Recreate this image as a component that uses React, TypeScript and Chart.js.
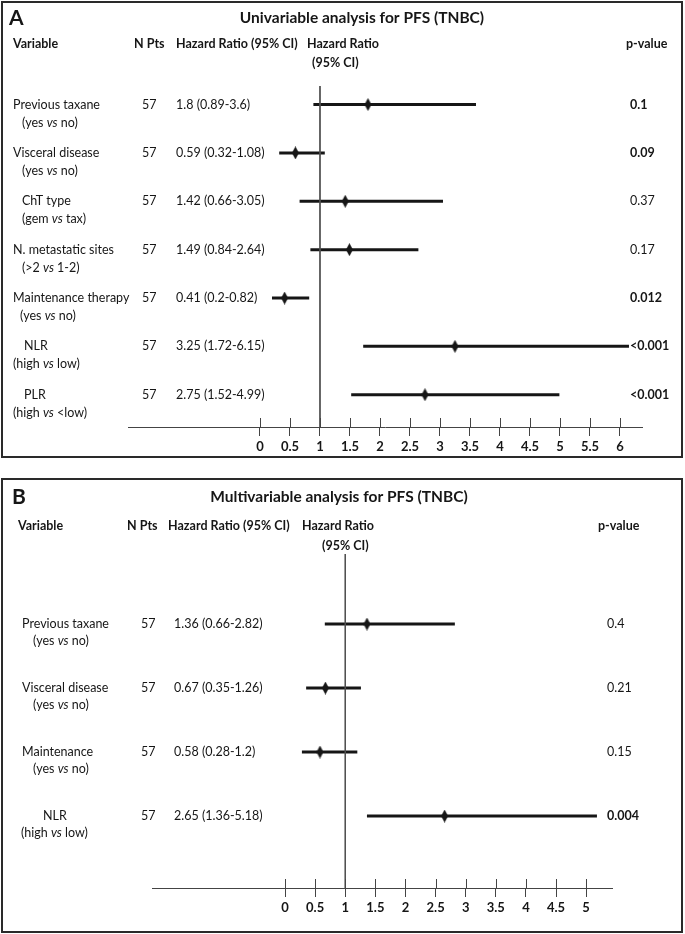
import React, { useEffect, useRef } from 'react';
import { Chart, registerables } from 'chart.js';

Chart.register(...registerables);

const FONT = 'Lato, "Open Sans", sans-serif';
const INK = '#161616';

// ---------- Panel A: univariable ----------
const uniTitle = 'Univariable analysis for PFS (TNBC)';
const uniVariables = ['Previous taxane', 'Visceral disease', 'ChT type', 'N. metastatic sites', 'Maintenance therapy', 'NLR', 'PLR'];
const uniComparisons: [string, string][] = [
  ['(yes', 'no)'], ['(yes', 'no)'], ['(gem', 'tax)'], ['(>2', '1-2)'], ['(yes', 'no)'], ['(high', 'low)'], ['(high', '<low)'],
];
const uniN = [57, 57, 57, 57, 57, 57, 57];
const uniHR = [1.8, 0.59, 1.42, 1.49, 0.41, 3.25, 2.75];
const uniLower = [0.89, 0.32, 0.66, 0.84, 0.2, 1.72, 1.52];
const uniUpper = [3.6, 1.08, 3.05, 2.64, 0.82, 6.15, 4.99];
const uniHRText = ['1.8 (0.89-3.6)', '0.59 (0.32-1.08)', '1.42 (0.66-3.05)', '1.49 (0.84-2.64)', '0.41 (0.2-0.82)', '3.25 (1.72-6.15)', '2.75 (1.52-4.99)'];
const uniP = ['0.1', '0.09', '0.37', '0.17', '0.012', '<0.001', '<0.001'];
const uniPBold = [true, true, false, false, true, true, true];
const uniTicks = [0, 0.5, 1, 1.5, 2, 2.5, 3, 3.5, 4, 4.5, 5, 5.5, 6];

// ---------- Panel B: multivariable ----------
const multiTitle = 'Multivariable analysis for PFS (TNBC)';
const multiVariables = ['Previous taxane', 'Visceral disease', 'Maintenance', 'NLR'];
const multiComparisons: [string, string][] = [['(yes', 'no)'], ['(yes', 'no)'], ['(yes', 'no)'], ['(high', 'low)']];
const multiN = [57, 57, 57, 57];
const multiHR = [1.36, 0.67, 0.58, 2.65];
const multiLower = [0.66, 0.35, 0.28, 1.36];
const multiUpper = [2.82, 1.26, 1.2, 5.18];
const multiHRText = ['1.36 (0.66-2.82)', '0.67 (0.35-1.26)', '0.58 (0.28-1.2)', '2.65 (1.36-5.18)'];
const multiP = ['0.4', '0.21', '0.15', '0.004'];
const multiPBold = [false, false, false, true];
const multiTicks = [0, 0.5, 1, 1.5, 2, 2.5, 3, 3.5, 4, 4.5, 5];

const headers = { variable: 'Variable', n: 'N Pts', hrci: 'Hazard Ratio (95% CI)', hr1: 'Hazard Ratio', hr2: '(95% CI)', p: 'p-value' };

// ---------- layout (page coordinates) ----------
type Layout = {
  boxTop: number; boxHeight: number;
  letterX: number; letterY: number; titleX: number; titleY: number;
  headY: number; head2Y: number;
  hVarX: number; hNX: number; hHrciX: number; hHr1X: number; hHr2X: number; hPX: number;
  labelX: [number, number][]; line2: number;
  nX: number; hrX: number; pX: number;
  chartLeft: number; chartRight: number; chartTop: number; chartBottom: number;
  xMin: number; xMax: number; yMin: number; yMax: number;
};

const layoutA: Layout = {
  boxTop: 1, boxHeight: 457,
  letterX: 9, letterY: 18, titleX: 362, titleY: 18,
  headY: 44, head2Y: 63,
  hVarX: 13, hNX: 134, hHrciX: 176, hHr1X: 307, hHr2X: 312, hPX: 626,
  labelX: [[13, 22], [13, 22], [22, 22], [13, 22], [13, 20], [24, 13], [24, 13]], line2: 18,
  nX: 142, hrX: 176, pX: 630,
  chartLeft: 128, chartRight: 642, chartTop: 86, chartBottom: 427,
  xMin: -2.2, xMax: 6.367, yMin: -0.383, yMax: 6.667,
};

const layoutB: Layout = {
  boxTop: 478, boxHeight: 455,
  letterX: 12, letterY: 497, titleX: 339, titleY: 497,
  headY: 526, head2Y: 546,
  hVarX: 18, hNX: 127, hHrciX: 168, hHr1X: 302, hHr2X: 322, hPX: 598,
  labelX: [[22, 33], [22, 33], [22, 33], [43, 21]], line2: 17,
  nX: 141, hrX: 174, pX: 607,
  chartLeft: 152, chartRight: 612, chartTop: 554, chartBottom: 888,
  xMin: -2.21, xMax: 5.43, yMin: -1.094, yMax: 4.125,
};

type Panel = {
  letter: string; title: string; vars: string[]; comps: [string, string][]; n: number[];
  hr: number[]; lower: number[]; upper: number[]; hrText: string[]; p: string[]; pBold: boolean[];
  ticks: number[]; L: Layout;
};

const panelA: Panel = {
  letter: 'A', title: uniTitle, vars: uniVariables, comps: uniComparisons, n: uniN, hr: uniHR, lower: uniLower,
  upper: uniUpper, hrText: uniHRText, p: uniP, pBold: uniPBold, ticks: uniTicks, L: layoutA,
};
const panelB: Panel = {
  letter: 'B', title: multiTitle, vars: multiVariables, comps: multiComparisons, n: multiN, hr: multiHR, lower: multiLower,
  upper: multiUpper, hrText: multiHRText, p: multiP, pBold: multiPBold, ticks: multiTicks, L: layoutB,
};

const BOX_LEFT = 1;
const BOX_WIDTH = 682;
const BORDER = 2;
const AXIS_H = 27;

function makeDiamond(): HTMLCanvasElement {
  const c = document.createElement('canvas');
  const w = 7, h = 13;
  c.width = w; c.height = h;
  const g = c.getContext('2d')!;
  g.fillStyle = INK;
  g.beginPath();
  g.moveTo(w / 2, 0); g.lineTo(w, h / 2); g.lineTo(w / 2, h); g.lineTo(0, h / 2);
  g.closePath(); g.fill();
  return c;
}

function ForestPanel({ panel }: { panel: Panel }) {
  const ref = useRef<HTMLCanvasElement | null>(null);
  const L = panel.L;
  const innerW = BOX_WIDTH - 2 * BORDER;
  const innerH = L.boxHeight - 2 * BORDER;
  const ox = BOX_LEFT + BORDER;
  const oy = L.boxTop + BORDER;

  useEffect(() => {
    if (!ref.current) return;
    const diamond = makeDiamond();
    const datasets: any[] = [];
    datasets.push({
      data: [{ x: 1, y: L.yMin }, { x: 1, y: L.yMax }],
      borderColor: '#505050', borderWidth: 1, pointRadius: 0,
    });
    panel.hr.forEach((_, i) => {
      datasets.push({
        data: [{ x: panel.lower[i], y: i }, { x: panel.upper[i], y: i }],
        borderColor: INK, borderWidth: 3, pointRadius: 0, borderCapStyle: 'butt',
      });
    });
    datasets.push({
      data: panel.hr.map((v, i) => ({ x: v, y: i })),
      showLine: false, pointStyle: diamond, pointRadius: 5, borderWidth: 0,
    });

    const textPlugin = {
      id: 'forestText' + panel.letter,
      afterDraw(chart: any) {
        const ctx: CanvasRenderingContext2D = chart.ctx;
        const ys = chart.scales.y;
        const xs = chart.scales.x;
        ctx.save();
        ctx.fillStyle = INK;
        ctx.textBaseline = 'middle';
        const P = (x: number) => x - ox;
        const Q = (y: number) => y - oy;
        // upper halves of tick marks
        ctx.strokeStyle = '#444';
        ctx.lineWidth = 1;
        const ab = chart.chartArea.bottom;
        panel.ticks.forEach((t) => {
          const px = Math.round(xs.getPixelForValue(t)) + 0.5;
          ctx.beginPath(); ctx.moveTo(px, ab - 9); ctx.lineTo(px, ab); ctx.stroke();
        });
        // letter + title
        ctx.textAlign = 'left';
        ctx.font = `bold 21px ${FONT}`;
        ctx.fillText(panel.letter, P(L.letterX), Q(L.letterY));
        ctx.textAlign = 'center';
        ctx.font = `bold 15.5px ${FONT}`;
        ctx.fillText(panel.title, P(L.titleX), Q(L.titleY));
        // headers
        ctx.textAlign = 'left';
        ctx.font = `bold 12.5px ${FONT}`;
        ctx.fillText(headers.variable, P(L.hVarX), Q(L.headY));
        ctx.fillText(headers.n, P(L.hNX), Q(L.headY));
        ctx.fillText(headers.hrci, P(L.hHrciX), Q(L.headY));
        ctx.fillText(headers.hr1, P(L.hHr1X), Q(L.headY));
        ctx.fillText(headers.hr2, P(L.hHr2X), Q(L.head2Y));
        ctx.fillText(headers.p, P(L.hPX), Q(L.headY));
        // rows
        const reg = `12.5px ${FONT}`;
        const ital = `italic 12.5px ${FONT}`;
        panel.vars.forEach((name, i) => {
          const y = ys.getPixelForValue(i);
          ctx.font = reg;
          ctx.fillText(name, P(L.labelX[i][0]), y);
          const [before, after] = panel.comps[i];
          let x = P(L.labelX[i][1]);
          const y2 = y + L.line2;
          ctx.fillText(before + ' ', x, y2);
          x += ctx.measureText(before + ' ').width;
          ctx.font = ital;
          ctx.fillText('vs', x, y2);
          x += ctx.measureText('vs').width;
          ctx.font = reg;
          ctx.fillText(' ' + after, x, y2);
          ctx.fillText(String(panel.n[i]), P(L.nX), y);
          ctx.fillText(panel.hrText[i], P(L.hrX), y);
          ctx.font = panel.pBold[i] ? `bold 12.5px ${FONT}` : reg;
          ctx.fillText(panel.p[i], P(L.pX), y);
        });
        ctx.restore();
      },
    };

    const chart = new Chart(ref.current, {
      type: 'line',
      data: { datasets },
      options: {
        animation: false,
        responsive: true,
        maintainAspectRatio: false,
        events: [],
        layout: {
          autoPadding: false,
          padding: {
            left: L.chartLeft - ox,
            right: innerW - (L.chartRight - ox),
            top: L.chartTop - oy,
            bottom: innerH - (L.chartBottom - oy) - AXIS_H,
          },
        },
        plugins: { legend: { display: false }, tooltip: { enabled: false }, title: { display: false } },
        scales: {
          x: {
            type: 'linear',
            min: L.xMin,
            max: L.xMax,
            afterBuildTicks: (s: any) => { s.ticks = panel.ticks.map((v) => ({ value: v })); },
            afterFit: (s: any) => { s.height = AXIS_H; },
            grid: { drawOnChartArea: false, drawTicks: true, tickLength: 9, color: '#444', lineWidth: 1 },
            border: { display: true, color: '#444', width: 1 },
            ticks: {
              padding: 3, color: INK, autoSkip: false, maxRotation: 0,
              font: { family: FONT, size: 13, weight: 'bold' },
              callback: (v: any) => String(v),
            },
          },
          y: { type: 'linear', display: false, reverse: true, min: L.yMin, max: L.yMax },
        },
      } as any,
      plugins: [textPlugin],
    });
    return () => chart.destroy();
  }, [panel]);

  return (
    <div
      style={{
        position: 'absolute', left: BOX_LEFT, top: L.boxTop, width: BOX_WIDTH, height: L.boxHeight,
        boxSizing: 'border-box', border: `${BORDER}px solid #2a2a2a`, background: '#fff',
      }}
    >
      <div style={{ position: 'relative', width: innerW, height: innerH }}>
        <canvas ref={ref} />
      </div>
    </div>
  );
}

export default function App() {
  useEffect(() => {
    document.body.style.margin = '0';
    document.body.style.background = '#fff';
  }, []);
  return (
    <div style={{ position: 'relative', width: 685, height: 934 }}>
      <ForestPanel panel={panelA} />
      <ForestPanel panel={panelB} />
    </div>
  );
}
